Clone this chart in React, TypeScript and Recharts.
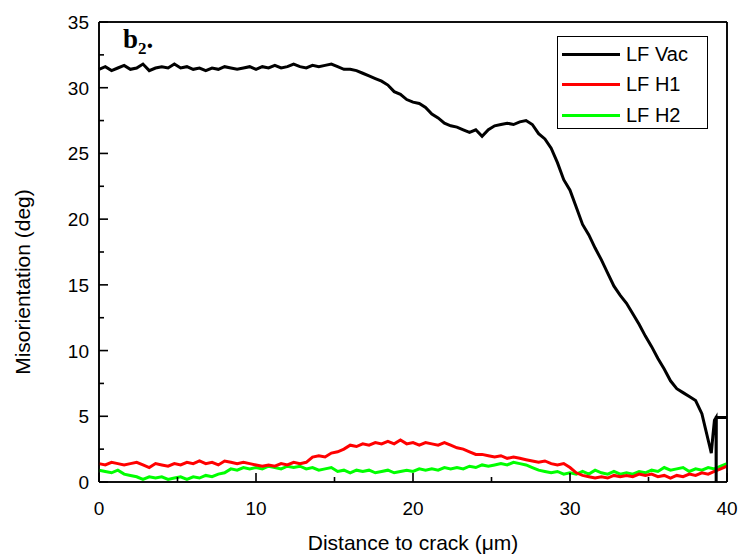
import React from "react";
import { LineChart, Line, XAxis, YAxis, Label, ReferenceLine } from "recharts";

// distance to crack (µm), sampled every 0.4
const distance = Array.from({ length: 101 }, (_, i) => Math.round(i * 4) / 10);

// LF Vac, 0 .. 38.4 µm
const lfVac = [
  31.4, 31.6, 31.3, 31.5, 31.7, 31.4, 31.5, 31.8, 31.3, 31.5,
  31.6, 31.5, 31.8, 31.5, 31.6, 31.4, 31.5, 31.3, 31.5, 31.4,
  31.6, 31.5, 31.4, 31.5, 31.6, 31.4, 31.6, 31.5, 31.7, 31.5,
  31.6, 31.8, 31.6, 31.5, 31.7, 31.6, 31.7, 31.8, 31.6, 31.4,
  31.4, 31.3, 31.1, 30.9, 30.7, 30.5, 30.2, 29.7, 29.5, 29.1,
  28.9, 28.8, 28.5, 28.0, 27.7, 27.3, 27.1, 27.0, 26.8, 26.6,
  26.8, 26.3, 26.8, 27.1, 27.2, 27.3, 27.2, 27.4, 27.5, 27.2,
  26.5, 26.1, 25.4, 24.3, 23.0, 22.2, 20.9, 19.6, 18.8, 17.8,
  16.9, 15.9, 14.9, 14.2, 13.6, 12.8, 12.0, 11.1, 10.3, 9.4,
  8.6, 7.7, 7.1, 6.8, 6.5, 6.2, 5.2,
];
// the noisy end of the LF Vac profile near the crack
const lfVacTailX = [38.6, 38.9, 39.0, 39.1, 39.2, 39.3, 39.31, 39.32, 40];
const lfVacTail = [4.2, 2.7, 2.2, 3.5, 4.7, 4.9, 0, 4.9, 4.9];

const lfH1 = [
  1.4, 1.3, 1.5, 1.4, 1.3, 1.4, 1.5, 1.3, 1.1, 1.4,
  1.3, 1.2, 1.4, 1.3, 1.5, 1.4, 1.6, 1.4, 1.5, 1.3,
  1.6, 1.5, 1.4, 1.5, 1.4, 1.3, 1.2, 1.3, 1.2, 1.4,
  1.3, 1.5, 1.4, 1.5, 1.9, 2.0, 1.9, 2.2, 2.3, 2.5,
  2.8, 2.7, 2.9, 2.8, 3.0, 2.9, 3.1, 2.9, 3.2, 2.9,
  3.0, 2.8, 3.0, 2.9, 2.8, 3.0, 2.8, 2.6, 2.5, 2.3,
  2.1, 2.1, 2.0, 1.9, 2.0, 1.8, 1.9, 1.8, 1.7, 1.6,
  1.5, 1.6, 1.4, 1.3, 1.4, 1.1, 0.7, 0.5, 0.4, 0.3,
  0.4, 0.3, 0.5, 0.4, 0.5, 0.4, 0.6, 0.5, 0.6, 0.4,
  0.5, 0.3, 0.5, 0.4, 0.6, 0.5, 0.7, 0.6, 0.8, 1.0,
  1.2,
];

const lfH2 = [
  0.9, 0.8, 0.7, 0.9, 0.6, 0.5, 0.4, 0.2, 0.4, 0.3,
  0.4, 0.2, 0.3, 0.4, 0.2, 0.4, 0.3, 0.5, 0.4, 0.6,
  0.7, 1.0, 0.9, 1.1, 1.0, 1.1, 1.0, 1.2, 1.1, 1.0,
  1.2, 1.1, 1.2, 1.0, 1.1, 0.9, 1.0, 1.1, 0.8, 0.9,
  0.7, 0.9, 0.8, 0.9, 0.7, 0.8, 0.9, 0.7, 0.8, 0.9,
  0.8, 1.0, 0.9, 1.0, 0.9, 1.1, 1.0, 1.1, 1.0, 1.2,
  1.1, 1.3, 1.2, 1.3, 1.4, 1.3, 1.5, 1.4, 1.3, 1.1,
  0.9, 0.8, 0.7, 0.8, 0.6, 0.7, 0.6, 0.8, 0.6, 0.9,
  0.7, 0.6, 0.8, 0.6, 0.7, 0.6, 0.8, 0.7, 0.9, 0.8,
  1.1, 0.9, 1.0, 1.1, 0.8, 1.0, 0.9, 1.1, 1.0, 1.2,
  1.4,
];

const xTicks = [0, 5, 10, 15, 20, 25, 30, 35, 40];
const yTicks = [0, 2.5, 5, 7.5, 10, 12.5, 15, 17.5, 20, 22.5, 25, 27.5, 30, 32.5, 35];

const vacData = [
  ...lfVac.map((v, i) => ({ x: distance[i], y: v })),
  ...lfVacTail.map((v, i) => ({ x: lfVacTailX[i], y: v })),
];
const h1Data = lfH1.map((v, i) => ({ x: distance[i], y: v }));
const h2Data = lfH2.map((v, i) => ({ x: distance[i], y: v }));

const FONT = "Arial, 'Liberation Sans', sans-serif";
const AXIS = { stroke: "#000", strokeWidth: 1.5 };
const TW = 1.6; // tick thickness

// inward tick marks; majors are longer and carry a label
function BottomTick({ x, y, payload }: any) {
  const major = payload.value % 10 === 0;
  const len = major ? 9 : 5;
  return (
    <g>
      <rect x={x - TW / 2} y={y - len} width={TW} height={len} fill="#000" />
      {major && (
        <text x={x} y={y + 33} textAnchor="middle" fontSize={19} fontFamily={FONT} fill="#000">
          {payload.value}
        </text>
      )}
    </g>
  );
}

function TopTick({ x, y, payload }: any) {
  const len = payload.value % 10 === 0 ? 9 : 5;
  return <rect x={x - TW / 2} y={y} width={TW} height={len} fill="#000" />;
}

function LeftTick({ x, y, payload }: any) {
  const major = payload.value % 5 === 0;
  const len = major ? 9 : 5;
  return (
    <g>
      <rect x={x} y={y - TW / 2} width={len} height={TW} fill="#000" />
      {major && (
        <text x={x - 10} y={y + 7} textAnchor="end" fontSize={19} fontFamily={FONT} fill="#000">
          {payload.value}
        </text>
      )}
    </g>
  );
}

function RightTick({ x, y, payload }: any) {
  const len = payload.value % 5 === 0 ? 9 : 5;
  return <rect x={x - len} y={y - TW / 2} width={len} height={TW} fill="#000" />;
}

function YTitle() {
  return (
    <text
      x={22}
      y={282}
      transform="rotate(-90 22 282)"
      textAnchor="middle"
      dominantBaseline="central"
      fontSize={21}
      fontFamily={FONT}
      fill="#000"
    >
      Misorientation (deg)
    </text>
  );
}

const legendItems = [
  { name: "LF Vac", color: "#000000" },
  { name: "LF H1", color: "#ff0000" },
  { name: "LF H2", color: "#00ff00" },
];

function LegendBox() {
  return (
    <div
      style={{
        position: "absolute",
        left: 557,
        top: 36,
        boxSizing: "border-box",
        border: "1px solid #000",
        background: "#fff",
        width: 151,
        height: 93,
        padding: "2px 0 0 4px",
        fontFamily: FONT,
        fontSize: 20,
      }}
    >
      {legendItems.map((it) => (
        <div key={it.name} style={{ display: "flex", alignItems: "center", height: 30.5 }}>
          <span style={{ width: 58, height: 3, background: it.color, marginRight: 6 }} />
          <span>{it.name}</span>
        </div>
      ))}
    </div>
  );
}

export default function App() {
  return (
    <div style={{ position: "absolute", left: 0, top: 0, width: 742, height: 558, background: "#fff" }}>
      <LineChart width={742} height={558} margin={{ top: 21, right: 14, bottom: 0, left: 0 }}>
        <XAxis
          xAxisId="x"
          dataKey="x"
          type="number"
          domain={[0, 40]}
          ticks={xTicks}
          interval={0}
          height={76}
          tickSize={0}
          tickMargin={0}
          tickLine={false}
          axisLine={AXIS}
          tick={<BottomTick />}
        >
          <Label
            value="Distance to crack (μm)"
            position="insideBottom"
            offset={8}
            style={{ fontSize: 21, fontFamily: FONT, fill: "#000" }}
          />
        </XAxis>
        <XAxis
          xAxisId="top"
          orientation="top"
          dataKey="x"
          type="number"
          domain={[0, 40]}
          ticks={xTicks}
          interval={0}
          height={1}
          tickSize={0}
          tickMargin={0}
          tickLine={false}
          axisLine={AXIS}
          tick={<TopTick />}
        />
        <YAxis
          yAxisId="y"
          type="number"
          domain={[0, 35]}
          ticks={yTicks}
          interval={0}
          width={99}
          tickSize={0}
          tickMargin={0}
          tickLine={false}
          axisLine={AXIS}
          tick={<LeftTick />}
        >
          <Label content={<YTitle />} />
        </YAxis>
        <YAxis
          yAxisId="right"
          orientation="right"
          type="number"
          domain={[0, 35]}
          ticks={yTicks}
          interval={0}
          width={1}
          tickSize={0}
          tickMargin={0}
          tickLine={false}
          axisLine={AXIS}
          tick={<RightTick />}
        />
        {/* plot frame along the domain edges */}
        <ReferenceLine xAxisId="x" yAxisId="y" x={0} stroke="#000" strokeWidth={1.6} ifOverflow="visible" />
        <ReferenceLine xAxisId="x" yAxisId="y" x={40} stroke="#000" strokeWidth={1.6} ifOverflow="visible" />
        <ReferenceLine xAxisId="x" yAxisId="y" y={0} stroke="#000" strokeWidth={1.6} ifOverflow="visible" />
        <ReferenceLine xAxisId="x" yAxisId="y" y={35} stroke="#000" strokeWidth={1.6} ifOverflow="visible" />
        <Line
          xAxisId="x"
          yAxisId="y"
          data={h2Data}
          dataKey="y"
          name="LF H2"
          stroke="#00ff00"
          strokeWidth={3}
          dot={false}
          type="linear"
          isAnimationActive={false}
        />
        <Line
          xAxisId="x"
          yAxisId="y"
          data={h1Data}
          dataKey="y"
          name="LF H1"
          stroke="#ff0000"
          strokeWidth={3}
          dot={false}
          type="linear"
          isAnimationActive={false}
        />
        <Line
          xAxisId="x"
          yAxisId="y"
          data={vacData}
          dataKey="y"
          name="LF Vac"
          stroke="#000000"
          strokeWidth={3}
          dot={false}
          type="linear"
          isAnimationActive={false}
        />
      </LineChart>
      <LegendBox />
      <div
        style={{
          position: "absolute",
          left: 123,
          top: 24,
          fontFamily: "'Liberation Serif', 'DejaVu Serif', serif",
          fontWeight: "bold",
          fontSize: 27,
          lineHeight: "30px",
        }}
      >
        b<sub style={{ fontSize: 17 }}>2</sub>.
      </div>
    </div>
  );
}
